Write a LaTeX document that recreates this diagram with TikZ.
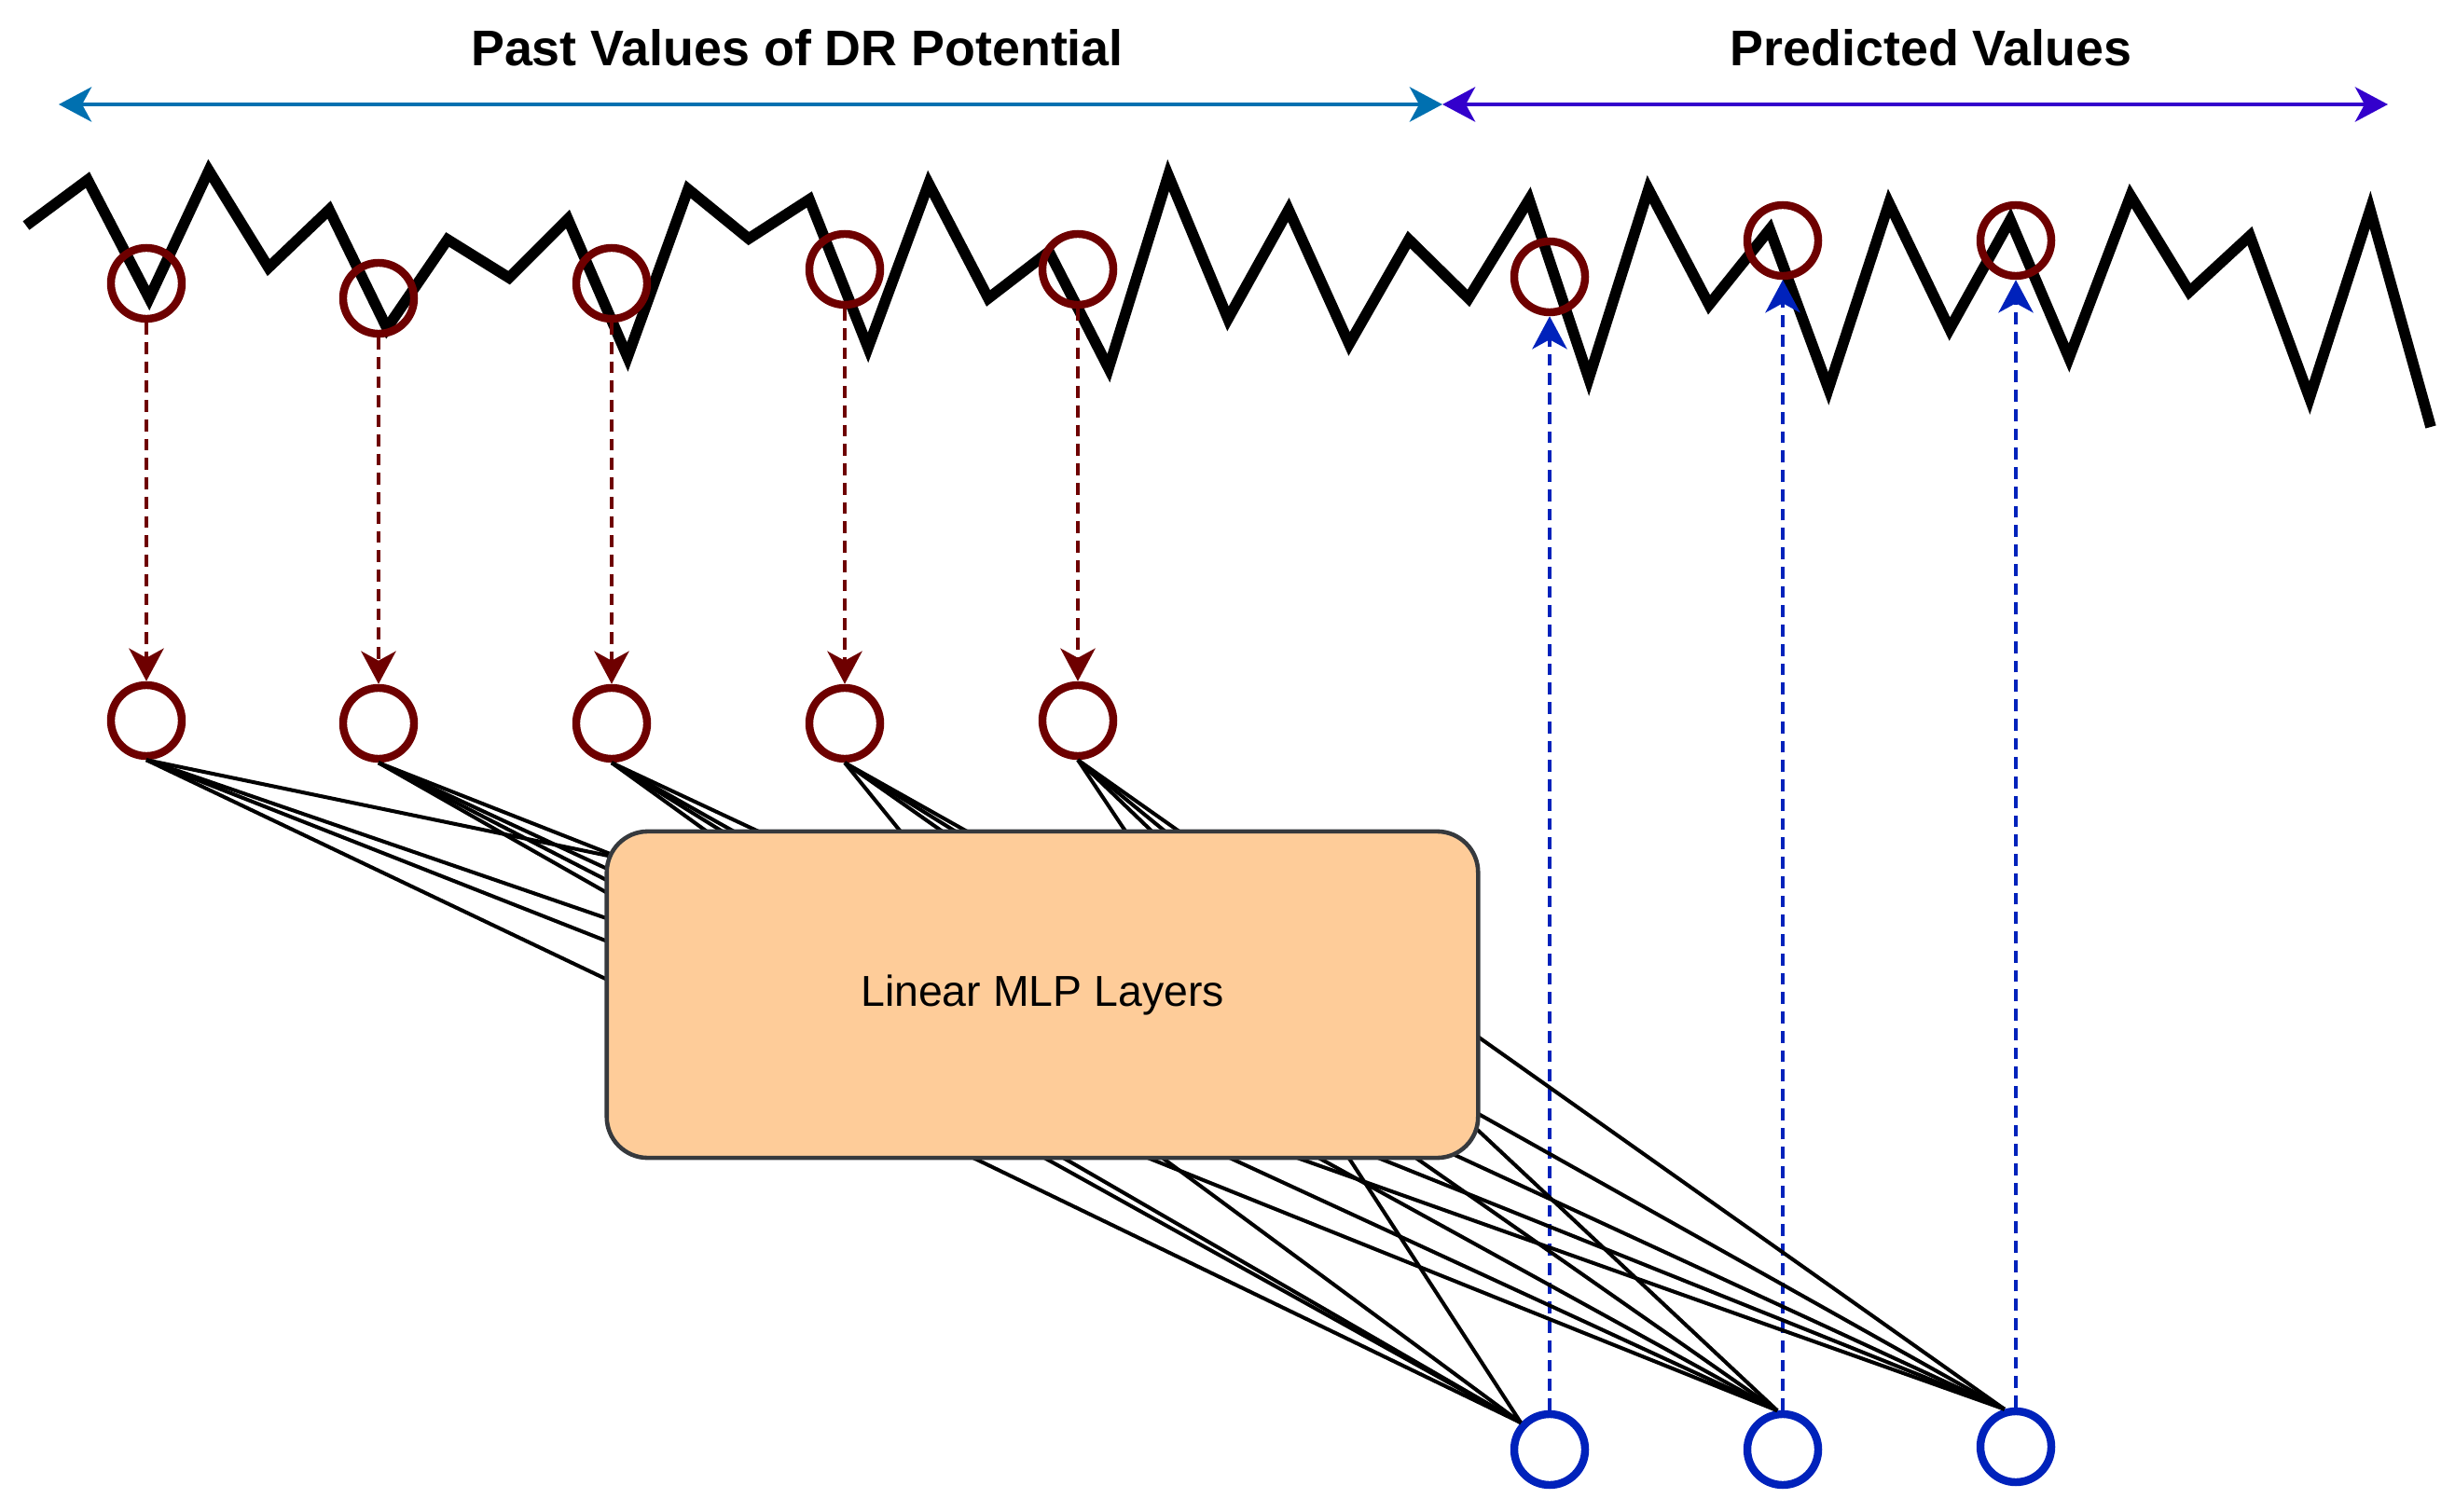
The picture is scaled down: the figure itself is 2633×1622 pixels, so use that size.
\documentclass[tikz,border=0pt]{standalone}
\usepackage{fontspec}
\setmainfont{Liberation Sans}
\usetikzlibrary{arrows.meta}
\definecolor{pastred}{RGB}{110,0,0}
\definecolor{outblue}{RGB}{0,34,187}
\definecolor{pastline}{RGB}{0,112,176}
\definecolor{predline}{RGB}{51,0,204}
\definecolor{mlpfill}{RGB}{254,204,153}
\definecolor{mlpdraw}{RGB}{54,57,61}
\tikzset{val/.style={circle,draw=pastred,line width=2.4pt,minimum size=0.76cm,inner sep=0pt}}
\tikzset{yhat/.style={val,draw=outblue}}
\tikzset{headline/.style={font=\fontsize{15.3}{18}\selectfont\bfseries,anchor=base,inner sep=0pt}}
\tikzset{mlp/.style={rectangle,rounded corners=0.44cm,fill=mlpfill,draw=mlpdraw,line width=1.3pt,minimum width=9.34cm,minimum height=3.5cm,font=\fontsize{13.2}{16}\selectfont}}
\tikzset{wire/.style={line width=1.15pt}}
\tikzset{trace/.style={line width=3.3pt}}
\tikzset{pastdash/.style={pastred,line width=1.4pt,dash pattern=on 3.6pt off 2.3pt}}
\tikzset{preddash/.style={outblue,line width=1.4pt,dash pattern=on 3.6pt off 2.3pt}}

\begin{document}
\begin{tikzpicture}[x=0.01cm,y=-0.01cm,>={Stealth[length=0.35cm,width=0.37cm,inset=0.1cm]}]
  \useasboundingbox (0,0) rectangle (2633,1622);
  % headings
  \node[headline] (pasttxt) at (855,71) {Past Values of DR Potential};
  \node[headline] (predtxt) at (2071,71) {Predicted Values};
  \coordinate (spanL) at (63,112);
  \coordinate (spanM) at (1547,112);
  \coordinate (spanR) at (2561,112);
    \draw[<->,pastline,line width=1.4pt] (spanL) -- (spanM);
    \draw[<->,predline,line width=1.4pt] (spanM) -- (spanR);
  % series
  \draw[trace] (28,242) -- (94,193) -- (160,320) -- (224,183) -- (288,287) -- (353,225)
    -- (415,352) -- (480,257) -- (546,298) -- (609,235) -- (673,383) -- (738,203)
    -- (803,256) -- (868,214) -- (931,373) -- (996,197) -- (1060,320) -- (1125,270)
    -- (1189,395) -- (1253,188) -- (1317,342) -- (1382,225) -- (1447,369) -- (1511,257)
    -- (1575,320) -- (1640,214) -- (1704,406) -- (1768,203) -- (1833,327) -- (1898,246)
    -- (1961,417) -- (2026,218) -- (2091,353) -- (2156,236) -- (2219,384) -- (2285,210)
    -- (2348,313) -- (2413,253) -- (2477,427) -- (2542,225) -- (2607,458);
  \node[val] (s1) at (157,304) {};
  \node[val] (s2) at (406,320) {};
  \node[val] (s3) at (656,304) {};
  \node[val] (s4) at (906,289) {};
  \node[val] (s5) at (1156,289) {};
  \node[val] (p1) at (1662,297) {};
  \node[val] (p2) at (1912,258) {};
  \node[val] (p3) at (2162,258) {};
  % inputs and outputs
  \node[val] (i1) at (157,773) {};
  \node[val] (i2) at (406,776) {};
  \node[val] (i3) at (656,776) {};
  \node[val] (i4) at (906,776) {};
  \node[val] (i5) at (1156,773) {};
  \node[yhat] (o1) at (1662,1555) {};
  \node[yhat] (o2) at (1912,1555) {};
  \node[yhat] (o3) at (2162,1552) {};
    \foreach \k in {1,...,5} \draw[->,pastdash] (s\k) -- (i\k);
    \foreach \k in {1,2,3} \draw[->,preddash] (o\k) -- (p\k);
  % hidden connections behind the box
  \foreach \n/\x/\y [count=\k] in {i1/662/920, i1/662/989, i1/662/1014, i1/662/1056,
      i2/662/919, i2/662/937, i2/662/950, i2/662/964,
      i3/772/902, i3/791/902, i3/805/902, i3/835/902,
      i4/974/902, i4/1025/902, i4/1041/902, i4/1055/902,
      i5/1214/902, i5/1246/902, i5/1262/902, i5/1279/902}
    {\coordinate (h\k) at (\x,\y); \draw[wire] (\n.south) -- (h\k);}
  \foreach \x/\y/\n/\a [count=\k] in {1023/1232/o1/137, 1102/1232/o1/137, 1123/1232/o1/137,
      1233/1232/o1/137, 1440/1232/o1/137,
      1206/1232/o2/98, 1297/1232/o2/98, 1396/1232/o2/98, 1504/1232/o2/98, 1575/1203/o2/98,
      1363/1232/o3/107, 1453/1232/o3/107, 1543/1231/o3/107, 1575/1189/o3/107, 1575/1105/o3/107}
    {\coordinate (g\k) at (\x,\y); \draw[wire] (g\k) -- (\n.\a);}
  \node[mlp] (mlp) at (1118,1067) {Linear MLP Layers};
\end{tikzpicture}
\end{document}
